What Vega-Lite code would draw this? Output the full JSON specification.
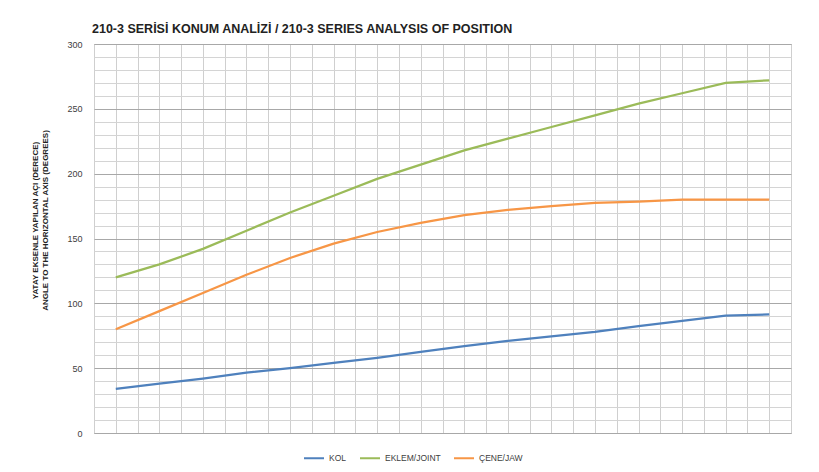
{
  "$schema": "https://vega.github.io/schema/vega-lite/v6.json",
  "width": 697,
  "height": 389,
  "autosize": "none",
  "padding": {"left": 94, "top": 44, "right": 28, "bottom": 39},
  "background": "white",
  "title": {
    "text": "210-3 SERİSİ KONUM ANALİZİ / 210-3 SERIES ANALYSIS OF POSITION",
    "anchor": "start",
    "frame": "group",
    "font": "Liberation Sans",
    "fontSize": 12.5,
    "fontWeight": "bold",
    "color": "#222222",
    "offset": 5,
    "dx": -2
  },
  "data": {
    "values": [
      {"x": 1, "v": 34, "s": "KOL"}, {"x": 3, "v": 38, "s": "KOL"}, {"x": 5, "v": 42, "s": "KOL"}, {"x": 7, "v": 46.5, "s": "KOL"},
      {"x": 9, "v": 50, "s": "KOL"}, {"x": 11, "v": 54, "s": "KOL"}, {"x": 13, "v": 58, "s": "KOL"}, {"x": 15, "v": 62.5, "s": "KOL"},
      {"x": 17, "v": 67, "s": "KOL"}, {"x": 19, "v": 71, "s": "KOL"}, {"x": 21, "v": 74.5, "s": "KOL"}, {"x": 23, "v": 78, "s": "KOL"},
      {"x": 25, "v": 82.5, "s": "KOL"}, {"x": 27, "v": 86.5, "s": "KOL"}, {"x": 29, "v": 90.5, "s": "KOL"}, {"x": 31, "v": 91.5, "s": "KOL"},
      {"x": 1, "v": 120, "s": "EKLEM/JOINT"}, {"x": 3, "v": 130, "s": "EKLEM/JOINT"}, {"x": 5, "v": 142, "s": "EKLEM/JOINT"}, {"x": 7, "v": 156, "s": "EKLEM/JOINT"},
      {"x": 9, "v": 170, "s": "EKLEM/JOINT"}, {"x": 11, "v": 183, "s": "EKLEM/JOINT"}, {"x": 13, "v": 196, "s": "EKLEM/JOINT"}, {"x": 15, "v": 207, "s": "EKLEM/JOINT"},
      {"x": 17, "v": 218, "s": "EKLEM/JOINT"}, {"x": 19, "v": 227, "s": "EKLEM/JOINT"}, {"x": 21, "v": 236, "s": "EKLEM/JOINT"}, {"x": 23, "v": 245, "s": "EKLEM/JOINT"},
      {"x": 25, "v": 254, "s": "EKLEM/JOINT"}, {"x": 27, "v": 262, "s": "EKLEM/JOINT"}, {"x": 29, "v": 270, "s": "EKLEM/JOINT"}, {"x": 31, "v": 272, "s": "EKLEM/JOINT"},
      {"x": 1, "v": 80, "s": "ÇENE/JAW"}, {"x": 3, "v": 94, "s": "ÇENE/JAW"}, {"x": 5, "v": 108, "s": "ÇENE/JAW"}, {"x": 7, "v": 122, "s": "ÇENE/JAW"},
      {"x": 9, "v": 135, "s": "ÇENE/JAW"}, {"x": 11, "v": 146, "s": "ÇENE/JAW"}, {"x": 13, "v": 155, "s": "ÇENE/JAW"}, {"x": 15, "v": 162, "s": "ÇENE/JAW"},
      {"x": 17, "v": 168, "s": "ÇENE/JAW"}, {"x": 19, "v": 172, "s": "ÇENE/JAW"}, {"x": 21, "v": 175, "s": "ÇENE/JAW"}, {"x": 23, "v": 177.5, "s": "ÇENE/JAW"},
      {"x": 25, "v": 178.5, "s": "ÇENE/JAW"}, {"x": 27, "v": 180, "s": "ÇENE/JAW"}, {"x": 29, "v": 180, "s": "ÇENE/JAW"}, {"x": 31, "v": 180, "s": "ÇENE/JAW"}
    ]
  },
  "mark": {"type": "line", "strokeWidth": 2.25, "interpolate": "linear"},
  "encoding": {
    "x": {
      "field": "x", "type": "quantitative",
      "scale": {"domain": [0, 32], "nice": false, "zero": false},
      "axis": {
        "values": [0,1,2,3,4,5,6,7,8,9,10,11,12,13,14,15,16,17,18,19,20,21,22,23,24,25,26,27,28,29,30,31,32],
        "labels": false, "ticks": false, "domain": false, "title": null,
        "grid": true, "gridColor": "#cfcfcf", "gridWidth": 1
      }
    },
    "y": {
      "field": "v", "type": "quantitative",
      "scale": {"domain": [0, 300], "nice": false},
      "axis": {
        "values": [0,10,20,30,40,50,60,70,80,90,100,110,120,130,140,150,160,170,180,190,200,210,220,230,240,250,260,270,280,290,300],
        "labelExpr": "datum.value % 50 === 0 ? datum.label : ''",
        "grid": true,
        "gridColor": {"condition": {"test": "datum.value % 50 === 0", "value": "#a8a8a8"}, "value": "#d4d4d4"},
        "gridWidth": 1,
        "ticks": false, "domain": false,
        "labelPadding": 12,
        "labelFont": "Liberation Sans", "labelFontSize": 9, "labelColor": "#404040",
        "title": ["YATAY EKSENLE YAPILAN AÇI (DERECE)", "ANGLE TO THE HORIZONTAL AXIS  (DEGREES)"],
        "titleFont": "Liberation Sans", "titleFontSize": 8, "titleFontWeight": "bold",
        "titleColor": "#222222", "titlePadding": 17, "titleLineHeight": 10,
        "titleY": 176
      }
    },
    "color": {
      "field": "s", "type": "nominal",
      "scale": {"domain": ["KOL", "EKLEM/JOINT", "ÇENE/JAW"], "range": ["#4F81BD", "#9BBB59", "#F79646"]},
      "legend": {
        "title": null, "orient": "none", "direction": "horizontal",
        "legendX": 209, "legendY": 403,
        "symbolType": "stroke", "symbolSize": 400, "symbolStrokeWidth": 2,
        "labelFont": "Liberation Sans", "labelFontSize": 8.5, "labelColor": "#404040",
        "columnPadding": 9, "labelOffset": 4
      }
    }
  },
  "config": {
    "view": {"stroke": "#a8a8a8", "strokeWidth": 1}
  }
}
